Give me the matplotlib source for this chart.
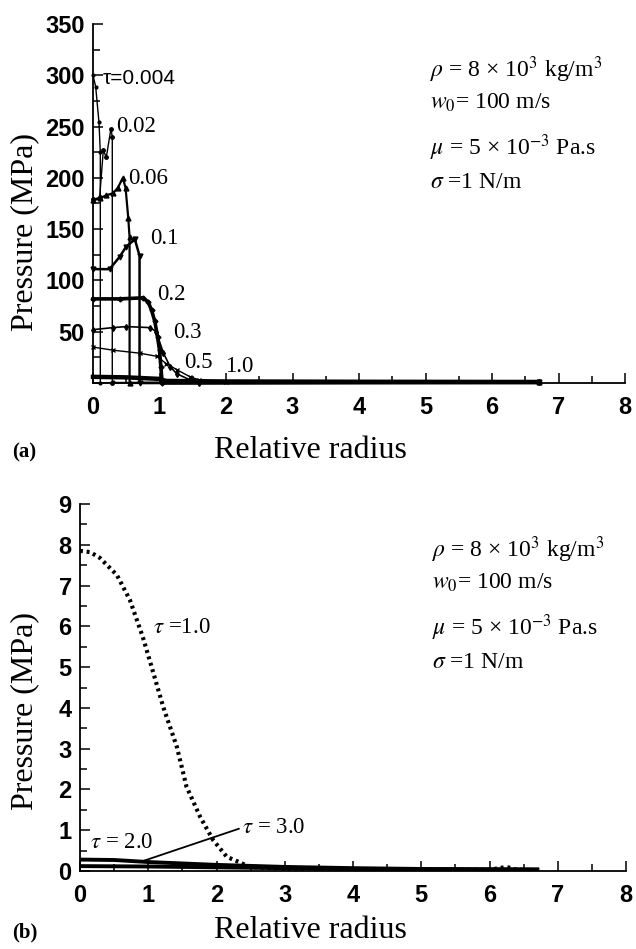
import matplotlib
matplotlib.use("Agg")
import matplotlib.pyplot as plt
from matplotlib.ticker import MultipleLocator

plt.rcParams["mathtext.fontset"] = "stix"
SERIF = "Liberation Serif"
SANS = "Liberation Sans"

# ---- panel (a): pressure profiles at early times ----
r_a = {
    "0.004": [0, 0.04, 0.09, 0.11, 0.11, 0.3, 6.7],
    "0.02": [0, 0.10, 0.155, 0.20, 0.27, 0.29, 0.29, 6.7],
    "0.06": [0, 0.10, 0.20, 0.30, 0.37, 0.45, 0.49, 0.53, 0.55, 0.55, 6.7],
    "0.1": [0, 0.25, 0.40, 0.50, 0.63, 0.70, 0.70, 6.7],
    "0.2": [0, 0.40, 0.75, 0.83, 0.88, 0.93, 0.97, 1.00, 1.02, 1.04, 6.7],
    "0.3": [0, 0.30, 0.50, 0.86, 0.95, 1.06, 1.16, 1.26, 1.46, 1.60, 6.7],
    "0.5": [0, 0.30, 0.71, 0.96, 1.10, 1.26, 1.46, 1.60, 2.00, 6.7],
    "1.0": [0, 0.50, 1.00, 1.10, 2.00, 4.00, 6.7],
}
p_a = {
    "0.004": [300, 289, 254, 225, 0, 0.5, 0.5],
    "0.02": [179, 181, 227, 220, 248, 240, 0, 0.5],
    "0.06": [178, 180, 183, 185, 190, 200, 190, 161, 142, 0, 0.5],
    "0.1": [111, 111, 123, 133, 140, 124, 0, 0.5],
    "0.2": [82, 82, 83, 79, 71, 60, 45, 32, 16, 0, 0.5],
    "0.3": [52, 54, 55, 54, 50, 29, 16, 9, 3, 0, 0.5],
    "0.5": [35, 32, 29, 26, 19, 13, 6, 3, 1, 0.5],
    "1.0": [6, 5.5, 4, 2, 1.5, 1.2, 1],
}
styles_a = {
    "0.004": dict(lw=1.0, marker=".", ms=4),
    "0.02": dict(lw=1.0, marker=".", ms=5),
    "0.06": dict(lw=1.6, marker="^", ms=3.5),
    "0.1": dict(lw=1.8, marker="v", ms=3.5),
    "0.2": dict(lw=2.6, marker="D", ms=2.5),
    "0.3": dict(lw=1.2, marker="d", ms=3),
    "0.5": dict(lw=1.0, marker="x", ms=2.5),
    "1.0": dict(lw=3.2, marker="", ms=0),
}
labels_a = [("τ=0.004", 0.15, 297, SANS, 15), ("0.02", 0.35, 250, SERIF, 16.5),
            ("0.06", 0.53, 199, SERIF, 16.5), ("0.1", 0.86, 141, SERIF, 16.5),
            ("0.2", 0.96, 86, SERIF, 16.5), ("0.3", 1.20, 49, SERIF, 16.5),
            ("0.5", 1.37, 20, SERIF, 16.5), ("1.0", 1.98, 16, SERIF, 16.5)]

# ---- panel (b): later times ----
r_b10 = [0, 0.15, 0.29, 0.54, 0.73, 0.92, 1.05, 1.22, 1.42, 1.56, 1.76, 1.95,
         2.15, 2.49, 3.0, 4.0, 5.0, 6.0, 6.25, 6.4, 6.7]
p_b10 = [7.85, 7.82, 7.68, 7.26, 6.65, 5.74, 5.0, 4.02, 3.04, 2.07, 1.33, 0.76,
         0.35, 0.10, 0.05, 0.03, 0.03, 0.03, 0.10, 0.03, 0.02]
r_b20 = [0, 0.5, 1.0, 2.0, 3.0, 4.0, 5.0, 6.7]
p_b20 = [0.28, 0.27, 0.22, 0.15, 0.10, 0.07, 0.05, 0.04]
r_b30 = [0, 1.0, 2.0, 3.0, 4.0, 5.0, 6.7]
p_b30 = [0.12, 0.11, 0.09, 0.07, 0.05, 0.04, 0.03]

params = [r"$\rho$ = 8 × 10$^3$ kg/m$^3$", r"$w_0$= 100 m/s",
          r"$\mu$ = 5 × 10$^{-3}$ Pa.s", r"$\sigma$ =1 N/m"]

fig = plt.figure(figsize=(6.36, 9.49), dpi=100)
W, H = 636, 949


def px_axes(l, t, r, b):
    return fig.add_axes([l / W, 1 - b / H, (r - l) / W, (b - t) / H])


def style_axes(ax, ymax, ymaj, ymin):
    for s in ("top", "right"):
        ax.spines[s].set_visible(False)
    for s in ("left", "bottom"):
        ax.spines[s].set_linewidth(1.3)
    ax.set_xlim(0, 8)
    ax.set_ylim(0, ymax)
    ax.xaxis.set_major_locator(MultipleLocator(1))
    ax.xaxis.set_minor_locator(MultipleLocator(0.5))
    ax.yaxis.set_major_locator(MultipleLocator(ymaj))
    ax.yaxis.set_minor_locator(MultipleLocator(ymin))
    ax.tick_params(which="both", direction="in", width=1.1)
    ax.tick_params(which="major", length=7)
    ax.tick_params(which="minor", length=5)
    ax.tick_params(axis="x", pad=9)
    ax.tick_params(axis="y", pad=6)


def font_ticks(ax):
    for lab in ax.get_xticklabels() + ax.get_yticklabels():
        lab.set_fontfamily(SANS)
        lab.set_fontweight("bold")
        lab.set_fontsize(17)


# panel (a)
ax1 = px_axes(93, 24, 625, 383)
for k in r_a:
    ax1.plot(r_a[k], p_a[k], color="black", clip_on=False, **styles_a[k])
style_axes(ax1, 350, 50, 25)
ax1.set_yticks([50, 100, 150, 200, 250, 300, 350])
font_ticks(ax1)
for txt, x, y, fam, fs in labels_a:
    ax1.text(x, y, txt, fontfamily=fam, fontsize=fs, ha="left", va="center")
for i, s in enumerate(params):
    fig.text(430 / W, 1 - (70 + [0, 33, 78, 112][i]) / H, s, fontfamily=SERIF,
             fontsize=17, ha="left", va="center")

# panel (b)
ax2 = px_axes(80, 504, 626, 871)
ax2.plot(r_b10, p_b10, color="black", lw=3, linestyle=(0, (0.7, 0.9)),
         dash_capstyle="butt")
ax2.plot(r_b20, p_b20, color="black", lw=2.8)
ax2.plot(r_b30, p_b30, color="black", lw=2.8)
style_axes(ax2, 9, 1, 0.5)
font_ticks(ax2)
ax2.text(1.07, 5.96, r"$\tau$ =1.0", fontfamily=SERIF, fontsize=16.5,
         ha="left", va="center")
ax2.text(0.15, 0.71, r"$\tau$ = 2.0", fontfamily=SERIF, fontsize=16.5,
         ha="left", va="center")
ax2.annotate(r"$\tau$ = 3.0", xy=(0.88, 0.22), xytext=(2.37, 1.06),
             fontfamily=SERIF, fontsize=16.5, ha="left", va="center",
             arrowprops=dict(arrowstyle="-", color="black", lw=1.3,
                             shrinkA=0, shrinkB=0, relpos=(0, 0.5)))
for i, s in enumerate(params):
    fig.text(432 / W, 1 - (550 + [0, 33, 78, 112][i]) / H, s, fontfamily=SERIF,
             fontsize=17, ha="left", va="center")

# axis titles and panel tags
for yc, yb, tag in ((232, 450, "(a)"), (711, 930, "(b)")):
    fig.text(25 / W, 1 - yc / H, "Pressure (MPa)", rotation=90,
             fontfamily=SERIF, fontsize=23, ha="center", va="center")
    fig.text(310 / W, 1 - yb / H, "Relative radius", fontfamily=SERIF,
             fontsize=23, ha="center", va="center")
    fig.text(12 / W, 1 - (yb + 2) / H, tag, fontfamily=SERIF,
             fontweight="bold", fontsize=15, ha="left", va="center")

fig.savefig("out.png", dpi=100)
